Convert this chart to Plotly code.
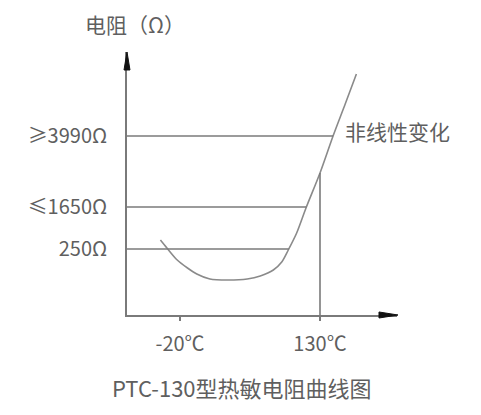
import numpy as np
import plotly.graph_objects as go

# ---- data (schematic PTC-130 curve) ----
temps = [-41, -34, -23, -12, -2, 12, 31, 52, 66, 80, 89, 96, 105, 115, 130, 144, 157, 169]
levels = [75, 67, 55, 47, 41, 36, 35, 36, 39, 45, 53, 65, 82, 107, 142, 179, 211, 241]

res_levels = [66, 108, 179]
res_labels = ["250Ω", "≤1650Ω", "≥3990Ω"]

temp_ticks = [-20, 130]
temp_labels = ["-20℃", "130℃"]

x_range = [-76.8, 212.5]
y_range = [0, 263]

# ---- layout geometry ----
W, H = 481, 415
ML, MR, MT, MB = 127, 84, 52, 100
PW, PH = W - ML - MR, H - MT - MB


def px(xp):
    return (xp - ML) / PW


def py(yp):
    return (H - MB - yp) / PH


LINE = "#7a7a7a"
TXT = "#5f5f5f"
FONT = "Noto Sans CJK SC"

t = np.array(temps, dtype=float)
lv = np.array(levels, dtype=float)
imin = int(np.argmin(lv))
rise_t, rise_lv = t[imin:], lv[imin:]

fig = go.Figure()

# curve
fig.add_trace(go.Scatter(x=temps, y=levels, mode="lines",
                         line=dict(color="#8a8a8a", width=1.6, shape="spline", smoothing=0.8),
                         hoverinfo="skip", showlegend=False))

# horizontal reference lines ending at the curve
for lvl in res_levels:
    xe = float(np.interp(lvl, rise_lv, rise_t))
    fig.add_trace(go.Scatter(x=[x_range[0], xe], y=[lvl, lvl], mode="lines",
                             line=dict(color=LINE, width=1.6),
                             hoverinfo="skip", showlegend=False))

# vertical line at 130 °C up to the curve
yv = float(np.interp(temp_ticks[1], rise_t, rise_lv))
fig.add_trace(go.Scatter(x=[temp_ticks[1], temp_ticks[1]], y=[y_range[0], yv], mode="lines",
                         line=dict(color=LINE, width=1.6),
                         hoverinfo="skip", showlegend=False))


# arrowheads
def tri(pts):
    return "M " + " L ".join(f"{px(a):.5f},{py(b):.5f}" for a, b in pts) + " Z"


fig.add_shape(type="path", xref="paper", yref="paper",
              path=tri([(127, 52), (124, 70), (130, 70)]),
              fillcolor="#111", line=dict(color="#111", width=1))
fig.add_shape(type="path", xref="paper", yref="paper",
              path=tri([(398, 315), (379, 312), (379, 318)]),
              fillcolor="#111", line=dict(color="#111", width=1))

# texts
fig.add_annotation(x=px(135), y=py(24), xref="paper", yref="paper",
                   xanchor="center", yanchor="middle",
                   text="电阻（Ω）", showarrow=False,
                   font=dict(family=FONT, size=21, color=TXT))
fig.add_annotation(x=px(343), y=py(131), xref="paper", yref="paper",
                   xanchor="left", yanchor="middle",
                   text="非线性变化", showarrow=False,
                   font=dict(family=FONT, size=21, color=TXT))
fig.add_annotation(x=px(242), y=py(387), xref="paper", yref="paper",
                   xanchor="center", yanchor="middle",
                   text="PTC-130型热敏电阻曲线图", showarrow=False,
                   font=dict(family=FONT, size=22, color=TXT))

fig.update_xaxes(range=x_range, showgrid=False, zeroline=False,
                 showline=True, linecolor=LINE, linewidth=1.8,
                 tickvals=temp_ticks, ticktext=temp_labels,
                 ticks="outside", ticklen=4, tickwidth=1.6, tickcolor=LINE,
                 ticklabelstandoff=6, automargin=False,
                 tickfont=dict(family=FONT, size=20, color=TXT), fixedrange=True)
fig.update_yaxes(range=y_range, showgrid=False, zeroline=False,
                 showline=True, linecolor=LINE, linewidth=1.8,
                 tickvals=res_levels, ticktext=res_labels,
                 ticks="", ticklabelstandoff=14, automargin=False,
                 tickfont=dict(family=FONT, size=20, color=TXT), fixedrange=True)

fig.update_layout(width=W, height=H,
                  margin=dict(l=ML, r=MR, t=MT, b=MB),
                  paper_bgcolor="white", plot_bgcolor="white",
                  showlegend=False)

fig.write_html("out.html",
               config={"displayModeBar": False, "staticPlot": True},
               post_script="document.body.style.margin='0';document.body.style.padding='0';")
